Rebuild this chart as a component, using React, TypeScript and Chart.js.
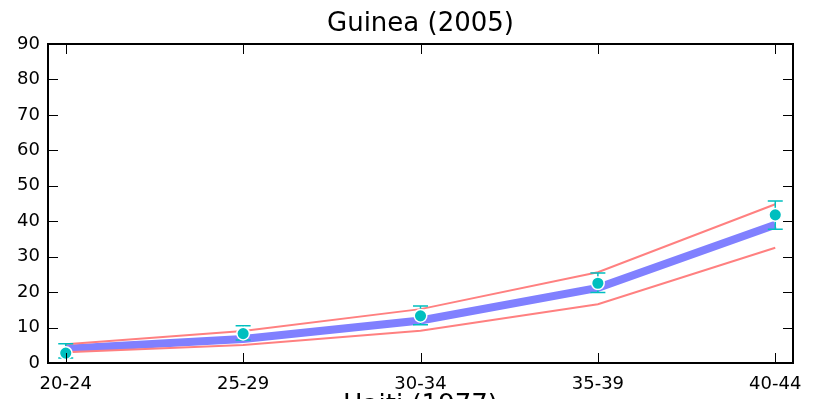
import React, { useEffect, useRef } from "react";
import { Chart, registerables } from "chart.js";

Chart.register(...registerables);

const categories = ["20-24", "25-29", "30-34", "35-39", "40-44"];
const modelValues = [4.0, 6.8, 12.0, 21.2, 39.0];
const upperValues = [5.3, 9.0, 15.2, 25.6, 44.8];
const lowerValues = [3.0, 5.1, 9.1, 16.6, 32.5];
const observedValues = [2.8, 8.3, 13.3, 22.5, 41.8];
const errorLow = [1.4, 6.5, 10.8, 19.9, 37.7];
const errorHigh = [5.4, 10.5, 16.1, 25.4, 45.7];
const yTicks = [0, 10, 20, 30, 40, 50, 60, 70, 80, 90];
const titleText = "Guinea (2005)";
const xAxisTitle = "Haiti (1977)";

const FONT = "'DejaVu Sans', sans-serif";

const toPoints = (vals: number[]) => vals.map((v, i) => ({ x: i, y: v }));

const decorPlugin = {
  id: "decor",
  beforeDatasetDraw(chart: any, args: any) {
    if (args.index !== 0) return;
    const ctx = chart.ctx;
    const xs = chart.scales.x;
    const ys = chart.scales.y;
    ctx.save();
    ctx.strokeStyle = "#00bfbf";
    ctx.lineWidth = 1.5;
    const cap = 7.5;
    categories.forEach((_, i) => {
      const px = xs.getPixelForValue(i);
      const top = ys.getPixelForValue(errorHigh[i]);
      const bot = ys.getPixelForValue(errorLow[i]);
      ctx.beginPath();
      ctx.moveTo(px, top);
      ctx.lineTo(px, bot);
      ctx.moveTo(px - cap, top);
      ctx.lineTo(px + cap, top);
      ctx.moveTo(px - cap, bot);
      ctx.lineTo(px + cap, bot);
      ctx.stroke();
    });
    ctx.restore();
  },
  afterDraw(chart: any) {
    const ctx = chart.ctx;
    const a = chart.chartArea;
    const xs = chart.scales.x;
    const ys = chart.scales.y;
    ctx.save();
    ctx.strokeStyle = "#000";
    ctx.lineWidth = 1;
    const tl = 10;
    ctx.beginPath();
    categories.forEach((_, i) => {
      const px = Math.round(xs.getPixelForValue(i)) + 0.5;
      ctx.moveTo(px, a.bottom);
      ctx.lineTo(px, a.bottom - tl);
      ctx.moveTo(px, a.top);
      ctx.lineTo(px, a.top + tl);
    });
    yTicks.forEach((v) => {
      const py = Math.round(ys.getPixelForValue(v)) + 0.5;
      ctx.moveTo(a.left, py);
      ctx.lineTo(a.left + tl, py);
      ctx.moveTo(a.right, py);
      ctx.lineTo(a.right - tl, py);
    });
    ctx.stroke();
    ctx.lineWidth = 2;
    ctx.strokeRect(a.left, a.top, a.right - a.left, a.bottom - a.top);
    ctx.fillStyle = "#000";
    ctx.font = `26px ${FONT}`;
    ctx.textAlign = "center";
    ctx.textBaseline = "alphabetic";
    const cx = (a.left + a.right) / 2;
    ctx.fillText(titleText, cx, 31);
    ctx.fillText(xAxisTitle, cx, 413);
    ctx.restore();
  },
};

export default function App() {
  const canvasRef = useRef<HTMLCanvasElement | null>(null);

  useEffect(() => {
    document.body.style.margin = "0";
    const canvas = canvasRef.current;
    if (!canvas) return;
    const tickFont = { family: FONT, size: 18 };
    const chart = new Chart(canvas, {
      type: "line",
      data: {
        datasets: [
          {
            label: "Observed",
            data: toPoints(observedValues),
            showLine: false,
            pointRadius: 6.3,
            pointBackgroundColor: "#00bfbf",
            pointBorderColor: "#ffffff",
            pointBorderWidth: 1.5,
          },
          {
            label: "Upper",
            data: toPoints(upperValues),
            borderColor: "#ff8080",
            borderWidth: 2,
            pointRadius: 0,
            tension: 0,
          },
          {
            label: "Lower",
            data: toPoints(lowerValues),
            borderColor: "#ff8080",
            borderWidth: 2,
            pointRadius: 0,
            tension: 0,
          },
          {
            label: "Model",
            data: toPoints(modelValues),
            borderColor: "#8080ff",
            borderWidth: 8,
            borderCapStyle: "butt",
            pointRadius: 0,
            tension: 0,
          },
        ],
      } as any,
      options: {
        animation: false,
        responsive: false,
        maintainAspectRatio: false,
        layout: { padding: { top: 44, right: 27, bottom: 0, left: 0 } },
        plugins: {
          legend: { display: false },
          title: { display: false },
          tooltip: { enabled: false },
        },
        scales: {
          x: {
            type: "linear",
            min: -0.1,
            max: 4.1,
            grid: { display: false, drawTicks: false },
            border: { display: false },
            afterBuildTicks: (s: any) => {
              s.ticks = categories.map((_, i) => ({ value: i }));
            },
            afterFit: (s: any) => {
              s.height = 36;
            },
            ticks: {
              autoSkip: false,
              maxRotation: 0,
              padding: 11,
              color: "#000",
              font: tickFont,
              callback: (v: any) => categories[v] ?? "",
            },
          },
          y: {
            min: 0,
            max: 90,
            grid: { display: false, drawTicks: false },
            border: { display: false },
            afterBuildTicks: (s: any) => {
              s.ticks = yTicks.map((v) => ({ value: v }));
            },
            afterFit: (s: any) => {
              s.width = 48;
            },
            ticks: {
              padding: 8,
              color: "#000",
              font: tickFont,
            },
          },
        },
      } as any,
      plugins: [decorPlugin],
    });
    return () => chart.destroy();
  }, []);

  return (
    <div style={{ width: 820, height: 399, position: "relative", background: "#fff" }}>
      <canvas ref={canvasRef} width={820} height={399} style={{ display: "block" }} />
    </div>
  );
}
